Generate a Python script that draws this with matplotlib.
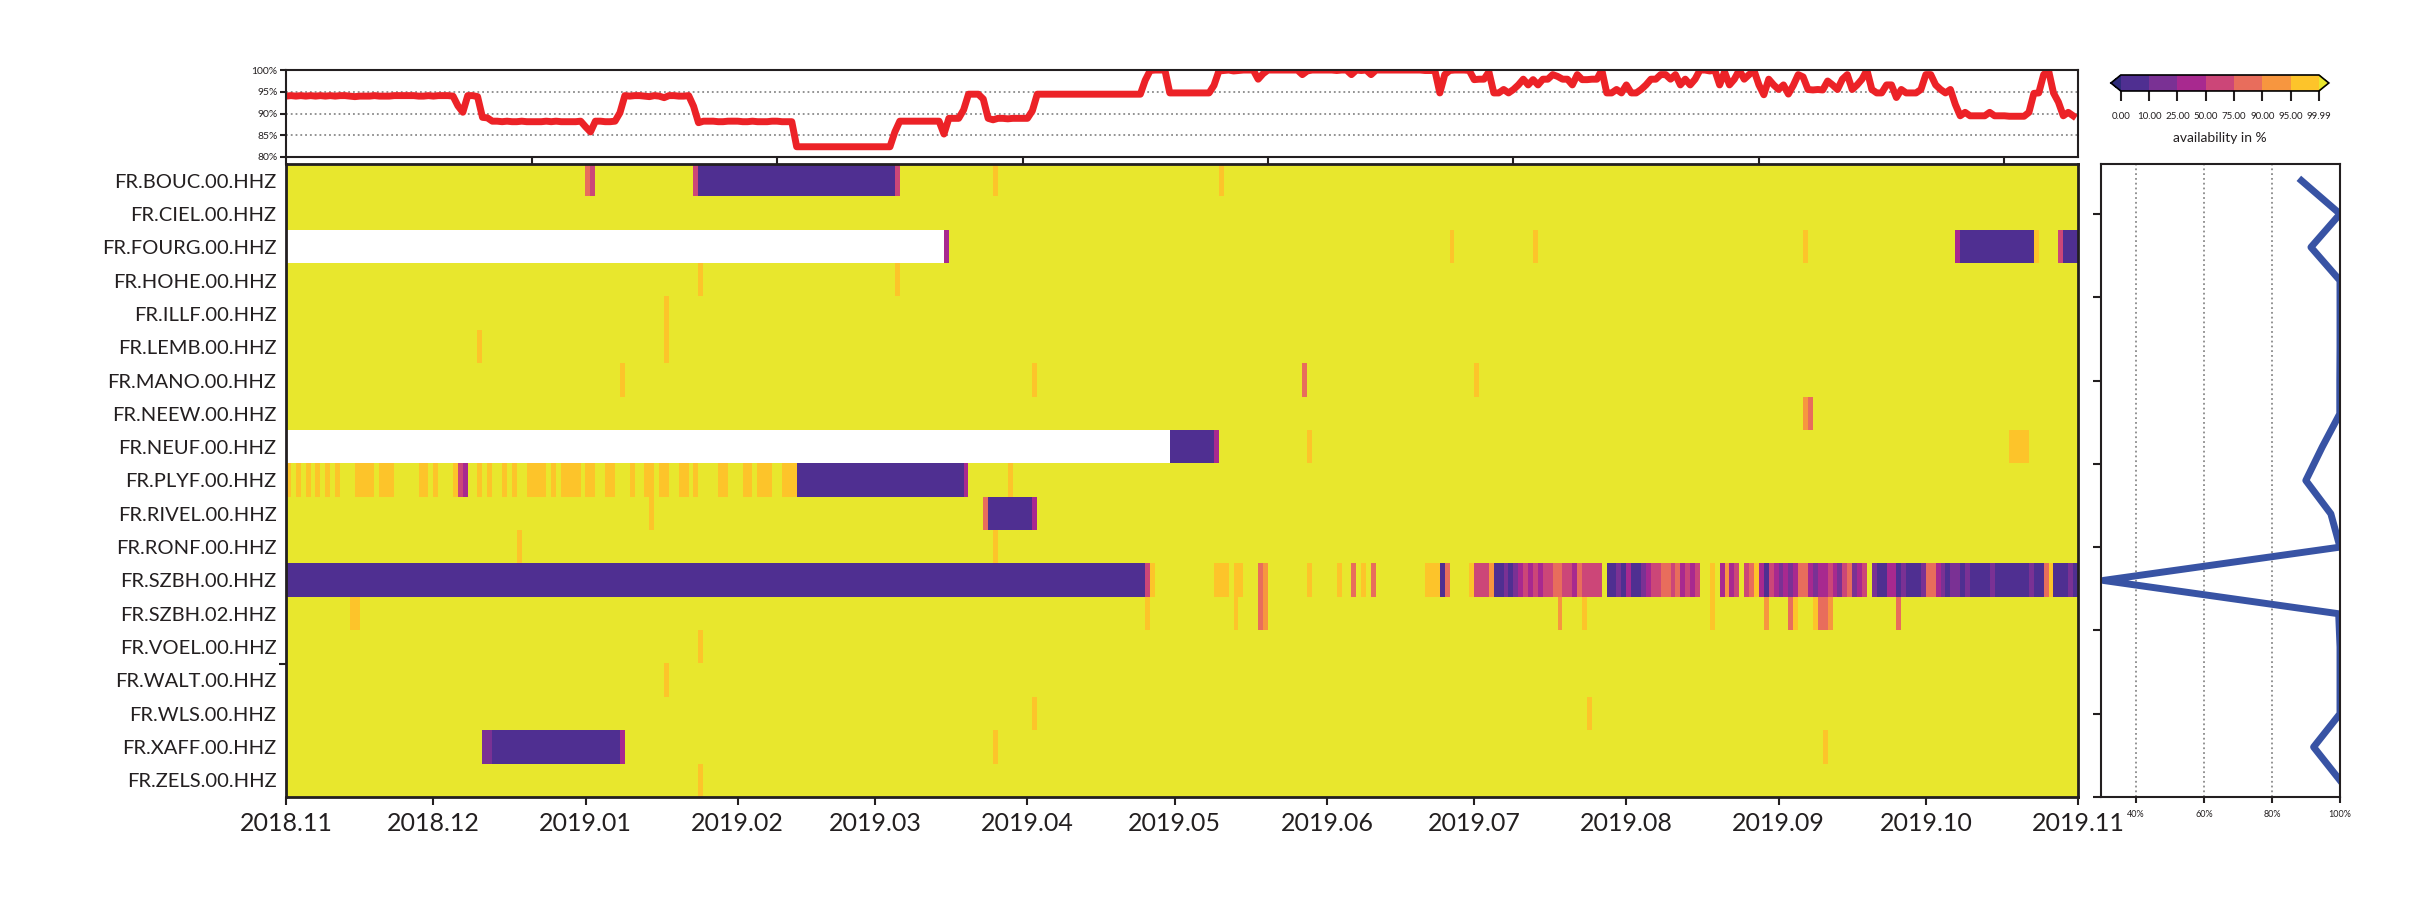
import numpy as np
import pandas as pd
import matplotlib
matplotlib.use("Agg")
import matplotlib.pyplot as plt
from matplotlib.colors import ListedColormap, BoundaryNorm

plt.rcParams['font.family'] = ['Lato', 'DejaVu Sans']
ink = '#231f20'

stations = ["FR.BOUC.00.HHZ", "FR.CIEL.00.HHZ", "FR.FOURG.00.HHZ", "FR.HOHE.00.HHZ",
            "FR.ILLF.00.HHZ", "FR.LEMB.00.HHZ", "FR.MANO.00.HHZ", "FR.NEEW.00.HHZ",
            "FR.NEUF.00.HHZ", "FR.PLYF.00.HHZ", "FR.RIVEL.00.HHZ", "FR.RONF.00.HHZ",
            "FR.SZBH.00.HHZ", "FR.SZBH.02.HHZ", "FR.VOEL.00.HHZ", "FR.WALT.00.HHZ",
            "FR.WLS.00.HHZ", "FR.XAFF.00.HHZ", "FR.ZELS.00.HHZ"]

# daily availability in %, everything not listed is 100
# (first day, last day + 1, value), day 0 = 2018-11-01, nan = no data
nan = np.nan
bouc = [(61, 62, 80), (62, 63, 60), (83, 84, 60), (84, 124, 0), (124, 125, 60),
        (144, 145, 98), (190, 191, 98)]
ciel = []
fourg = [(0, 134, nan), (134, 135, 35), (237, 238, 98), (254, 255, 98), (309, 310, 98),
         (340, 341, 35), (341, 356, 0), (356, 357, 98), (361, 362, 60), (362, 365, 0)]
hohe = [(84, 85, 98), (124, 125, 98)]
illf = [(77, 78, 98)]
lemb = [(39, 40, 98), (77, 78, 98)]
mano = [(68, 69, 98), (152, 153, 98), (207, 208, 80), (242, 243, 98)]
neew = [(309, 310, 92), (310, 311, 80)]
neuf = [(0, 180, nan), (180, 189, 0), (189, 190, 35), (208, 209, 98), (351, 355, 98)]
plyf = [(0, 1, 98), (2, 3, 98), (4, 5, 98), (6, 7, 98), (8, 9, 98), (10, 11, 98),
        (14, 18, 98), (19, 22, 98), (27, 29, 98), (30, 31, 98), (34, 35, 98), (35, 36, 60),
        (36, 37, 35), (39, 40, 98), (41, 42, 98), (44, 45, 98), (46, 47, 98), (49, 53, 98),
        (54, 55, 98), (56, 60, 98), (61, 63, 98), (65, 67, 98), (70, 71, 98), (73, 75, 98),
        (76, 78, 98), (80, 82, 98), (83, 84, 98), (88, 90, 98), (93, 95, 98), (96, 99, 98),
        (101, 104, 98), (104, 138, 0), (138, 139, 35), (147, 148, 98)]
rivel = [(74, 75, 98), (142, 143, 80), (143, 152, 0), (152, 153, 35)]
ronf = [(47, 48, 98), (144, 145, 98)]
szbh00 = [(0, 175, 0), (175, 176, 60), (176, 177, 98), (189, 192, 98), (193, 195, 98),
          (198, 199, 80), (199, 200, 92), (208, 209, 98), (214, 215, 98), (217, 218, 80),
          (219, 220, 98), (221, 222, 80), (232, 235, 98), (235, 236, 0), (236, 237, 80),
          (241, 242, 98), (242, 245, 60), (245, 246, 92)]
# SZBH.00 day by day from day 246 to the end
szbh00_tail = [0, 0, 15, 0, 15, 35, 60, 35, 60, 35, 60, 60, 80, 80, 60, 60, 35, 80, 60, 60,
               60, 60, 100, 0, 0, 15, 0, 35, 0, 0, 15, 35, 60, 60, 80, 80, 60, 80, 35, 60,
               35, 60, 100, 100, 98, 100, 35, 92, 35, 60, 100, 60, 80, 98, 35, 0, 60, 35, 15, 35,
               15, 35, 80, 80, 35, 15, 35, 35, 60, 35, 15, 60, 80, 15, 35, 60, 100, 15, 0, 0,
               35, 35, 0, 15, 0, 0, 0, 15, 80, 80, 35, 15, 0, 15, 15, 0, 15, 0, 0, 0,
               0, 15, 0, 0, 0, 0, 0, 0, 0, 15, 0, 0, 80, 98, 0, 0, 0, 15, 0]
szbh02 = [(13, 15, 98), (175, 176, 98), (193, 194, 98), (198, 199, 80), (199, 200, 92),
          (259, 260, 92), (264, 265, 98), (290, 291, 98), (301, 302, 92), (306, 307, 80),
          (307, 308, 98), (311, 312, 98), (312, 314, 80), (314, 315, 92), (328, 329, 80)]
voel = [(84, 85, 98)]
walt = [(77, 78, 98)]
wls = [(152, 153, 98), (265, 266, 98)]
xaff = [(40, 42, 15), (42, 68, 0), (68, 69, 35), (144, 145, 98), (313, 314, 98)]
zels = [(84, 85, 98)]

rows = [bouc, ciel, fourg, hohe, illf, lemb, mano, neew, neuf, plyf, rivel, ronf,
        szbh00, szbh02, voel, walt, wls, xaff, zels]

bounds = [0, 10, 25, 50, 75, 90, 95, 99.99]
bin_colors = ['#4f2f91', '#7a3194', '#a8298f', '#cc4678', '#e86d5c', '#f7963f', '#fdc42a']
under_color = '#2e2b7b'
over_color = '#e8e72d'

months = pd.date_range('2018-11-01', '2019-11-01', freq='MS')
n_days = (months[-1] - months[0]).days

data = np.full((len(stations), n_days), 100.0)
for r, segs in enumerate(rows):
    for a, b, v in segs:
        data[r, a:b] = v
data[12, 246:] = szbh00_tail

daily = np.nanmean(data, axis=0)
per_station = np.nanmean(data, axis=1)

cmap = ListedColormap(bin_colors)
cmap.set_under(under_color)
cmap.set_over(over_color)
cmap.set_bad('white')
norm = BoundaryNorm(bounds, cmap.N)

fig = plt.figure(figsize=(24.35, 9.18), dpi=100)
ax = fig.add_axes([0.1175, 0.1318, 0.7359, 0.6896])
ax_top = fig.add_axes([0.1175, 0.829, 0.7359, 0.0947])
ax_r = fig.add_axes([0.8628, 0.1318, 0.0982, 0.6896])
cax = fig.add_axes([0.8669, 0.9009, 0.0895, 0.0174])

# heatmap
im = ax.imshow(np.ma.masked_invalid(data), cmap=cmap, norm=norm, aspect='auto',
               interpolation='nearest', extent=(0, n_days, len(stations), 0))
month_pos = [(m - months[0]).days for m in months]
ax.set_xticks(month_pos)
ax.set_xticklabels([m.strftime('%Y.%m') for m in months], fontsize=18, color=ink)
ax.set_yticks(np.arange(len(stations)) + 0.5)
ax.set_yticklabels(stations, fontsize=14.5, color=ink)
ax.set_yticks([15], minor=True)
ax.tick_params(axis='y', which='major', length=0, pad=7)
ax.tick_params(axis='y', which='minor', length=5, width=1.5, color=ink)
ax.tick_params(axis='x', length=6, width=1.5, color=ink, pad=5)
for s in ax.spines.values():
    s.set_linewidth(2)
    s.set_color(ink)

# daily mean availability
ax_top.plot(np.arange(n_days), daily, color='#ec2227', lw=5, solid_joinstyle='round')
ax_top.set_xlim(0, n_days)
ax_top.set_ylim(80, 100)
ax_top.set_yticks([80, 85, 90, 95, 100])
ax_top.set_yticklabels([f'{v}%' for v in [80, 85, 90, 95, 100]], fontsize=7.5, color=ink)
ax_top.grid(axis='y', ls=':', color='#8a8a8a', lw=1.3)
ax_top.tick_params(axis='x', labelbottom=False, length=6, width=1.5, color=ink)
ax_top.tick_params(axis='y', length=4, width=1.5, color=ink, pad=2)
for s in ax_top.spines.values():
    s.set_linewidth(1.5)
    s.set_color(ink)

# availability per station
ax_r.plot(per_station, np.arange(len(stations))[::-1] + 0.5, color='#3853a4', lw=5)
ax_r.set_ylim(0, len(stations))
ax_r.set_xlim(per_station.min() - 0.7, 100)
ax_r.set_yticks(np.arange(0, len(stations), 2.5))
ax_r.tick_params(axis='y', labelleft=False, length=6, width=1.5, color=ink)
ax_r.set_xticks([40, 60, 80, 100])
ax_r.set_xticklabels(['40%', '60%', '80%', '100%'], fontsize=6.5, color=ink)
ax_r.tick_params(axis='x', length=4, width=1.5, color=ink, pad=5)
ax_r.grid(axis='x', ls=':', color='#8a8a8a', lw=1.3)
for s in ax_r.spines.values():
    s.set_linewidth(1.5)
    s.set_color(ink)

# colorbar
cb = fig.colorbar(im, cax=cax, orientation='horizontal', extend='both', ticks=bounds)
cb.ax.set_xticklabels([f'{b:.2f}' for b in bounds], fontsize=7, color=ink)
cb.ax.tick_params(length=7, width=1.5, color=ink, pad=8)
cb.outline.set_linewidth(1.2)
cb.set_label('availability in %', fontsize=10, color=ink, labelpad=8)

fig.savefig('out.png', dpi=100)
